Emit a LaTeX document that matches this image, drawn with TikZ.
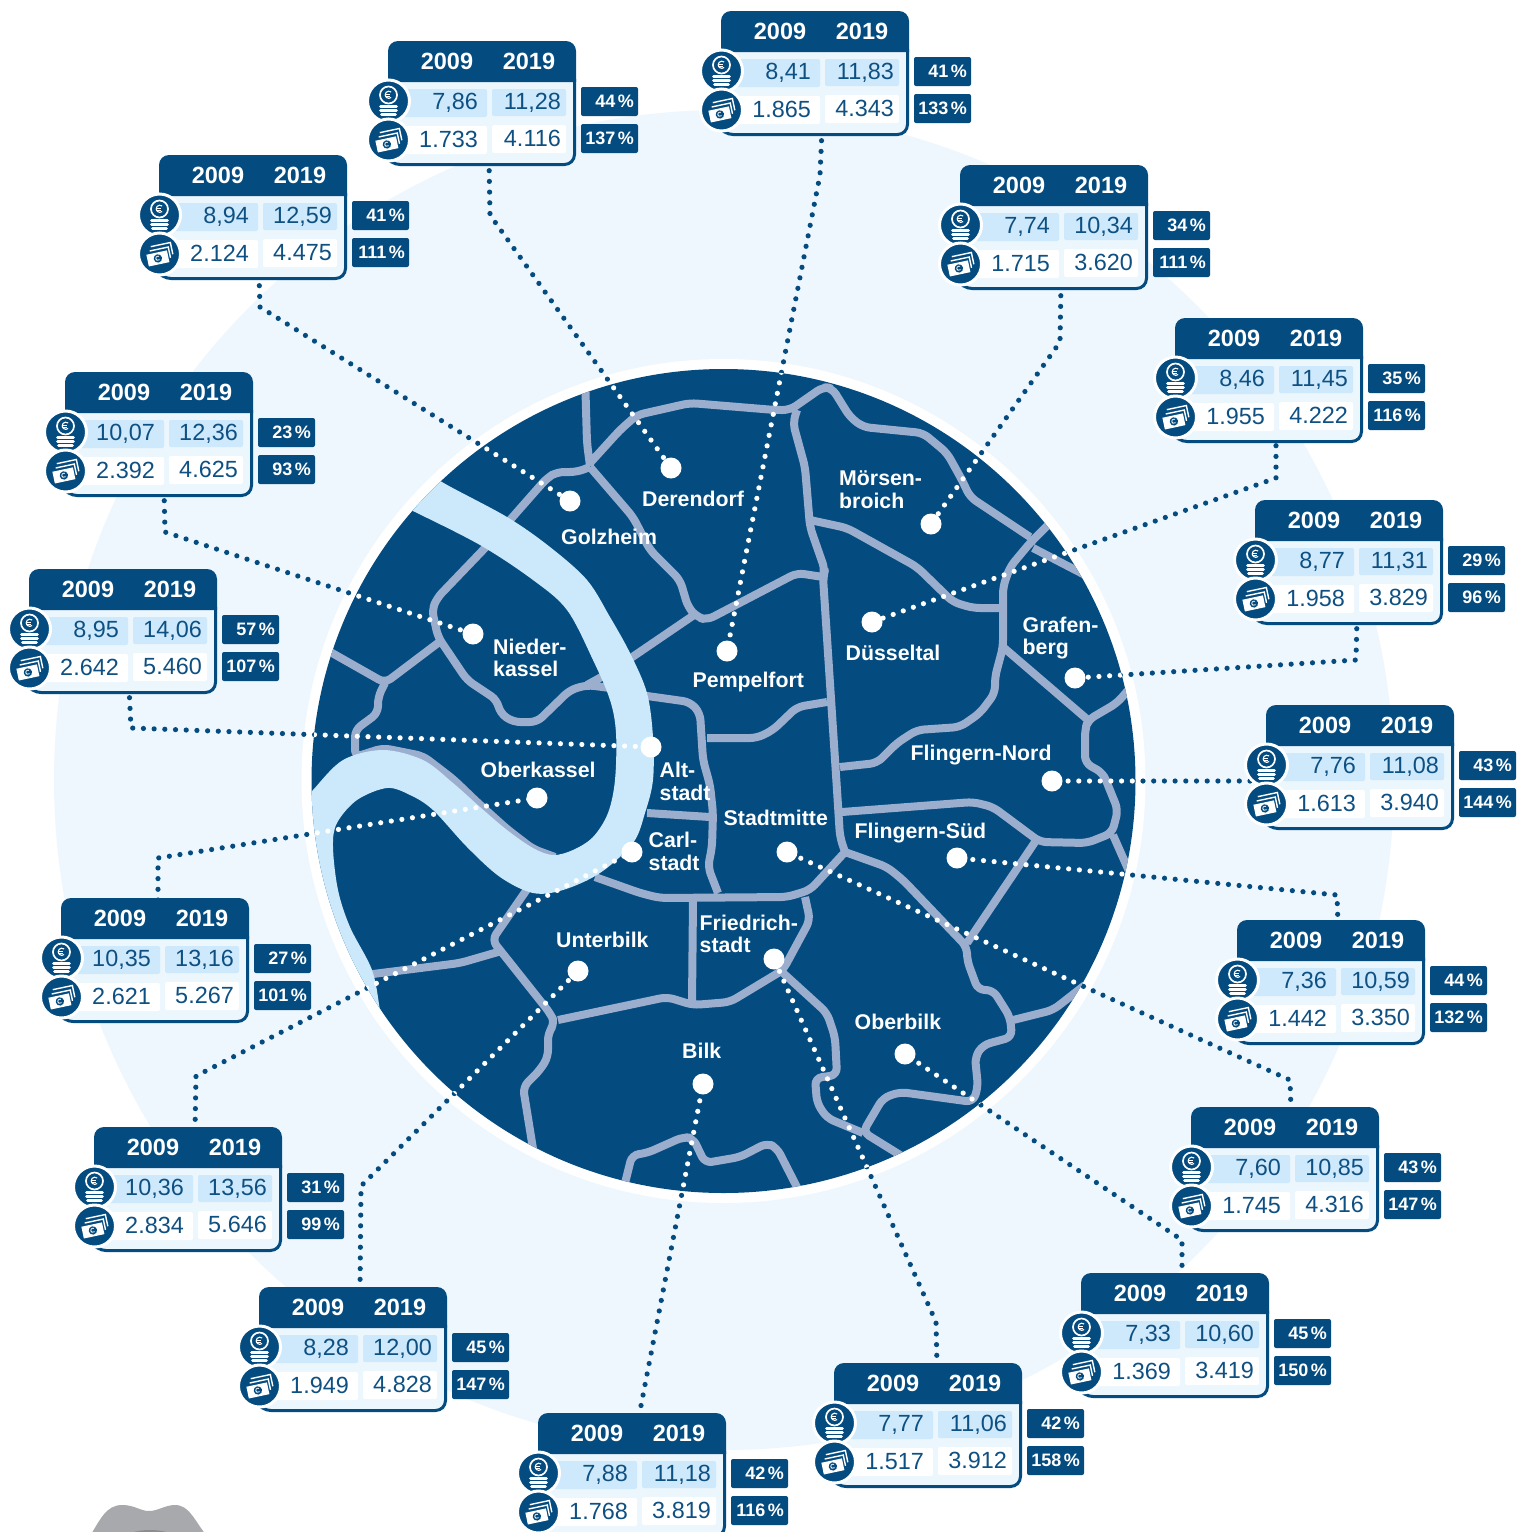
\documentclass[tikz,border=0pt]{standalone}
\usepackage{fontspec}
\setmainfont{Liberation Sans}
\definecolor{navy}{HTML}{044B7F}
\definecolor{halo}{HTML}{EEF7FE}
\definecolor{bodyc}{HTML}{EBF6FD}
\definecolor{cellc}{HTML}{CDE9FB}
\definecolor{river}{HTML}{CBE9FB}
\definecolor{street}{HTML}{9BAECE}
\definecolor{numc}{HTML}{0F5083}
\definecolor{blob}{HTML}{A7A9AC}
\tikzset{
  darkdots/.style={navy,line width=5.2pt,line cap=round,dash pattern=on 0pt off 10.7pt},
  whitedots/.style={white,line width=5.2pt,line cap=round,dash pattern=on 0pt off 10.7pt},
  streets/.style={street,line width=8pt,line join=round,rounded corners=7pt},
  pin/.style={circle,fill=white,minimum size=21pt,inner sep=0pt},
  place/.style={white,inner sep=0pt,anchor=north west,align=left,font=\fontsize{21.3}{22.7}\selectfont\bfseries},
  year/.style={white,inner sep=0pt,anchor=base,font=\fontsize{23.5}{23.5}\selectfont\bfseries},
  num/.style={numc,inner sep=0pt,anchor=base east,font=\fontsize{23.4}{24}\selectfont},
  pct/.style={white,inner sep=0pt,anchor=base east,font=\fontsize{18}{20}\selectfont\bfseries},
  badge/.style={fill=navy,rounded corners=2pt},
  iconring/.style={circle,fill=navy,draw=white,line width=3pt,minimum size=42pt,inner sep=0pt},
}
\newcommand\coinicon[2]{%
  \begin{scope}[shift={(#1,#2)}]
    \draw[white,line width=1.7pt] (0,-6) circle (8.5pt);
    \draw[white,line width=1.1pt] (2.6,-9) arc (50:310:3.6pt);
    \draw[white,line width=.9pt] (-3.6,-6.8)--(1,-6.8) (-3.6,-5)--(1,-5);
    \draw[white,line width=2.8pt,line cap=round] (-8,5.5)--(8,5.5) (-8,9.5)--(8,9.5) (-7,13.5)--(7,13.5);
  \end{scope}}
\newcommand\cashicon[2]{%
  \begin{scope}[shift={(#1,#2)},rotate=12]
    \draw[white,line width=1.4pt] (-7,-9)--(13,-9)--(13,3) (-9,-5)--(10,-5)--(10,6);
    \fill[white] (-13,-2) rectangle (8,10);
    \fill[navy] (-2.5,4) circle (4.2pt);
    \draw[white,line width=.8pt] (-1,2.2) arc (50:310:2.2pt);
  \end{scope}}
\newcommand\databox[9]{%
  \begin{scope}[shift={(#2,#3)}]
    \fill[bodyc] (6,40) rectangle (186,123);
    \draw[navy,line width=3pt,rounded corners=10pt] (186.5,38)--(186.5,123.5)--(2,123.5)--(0,120);
    \fill[navy] (0,41) [rounded corners=10pt] -- (0,0) -- (188,0) [sharp corners] -- (188,41) -- cycle;
    \fill[cellc,rounded corners=2pt] (15,48) rectangle (99,76) (104,48) rectangle (178,75);
    \fill[white,rounded corners=2pt] (15,85) rectangle (99,113) (104,84) rectangle (178,112);
    \fill[badge] (193,46) rectangle (250,75);
    \fill[badge] (193,83) rectangle (250,112);
    \node[year] (#1y1) at (59,28.5) {2009};
    \node[year] (#1y2) at (141,28.5) {2019};
    \node[num] (#1a) at (90,68.5) {#4};
    \node[num] (#1b) at (173,68) {#5};
    \node[num] (#1c) at (90,106) {#6};
    \node[num] (#1d) at (173,105) {#7};
    \node[pct] (#1p) at (246,66.5) {#8\kern2.5pt\%};
    \node[pct] (#1q) at (246,103.5) {#9\kern2.5pt\%};
    \node[iconring] (#1coin) at (0.5,60) {};
    \coinicon{0.5}{60}
    \node[iconring] (#1cash) at (0.5,99) {};
    \cashicon{0.5}{99}
  \end{scope}}
\newcommand\allconnectors[1]{%
  \draw[#1] (s1)--(t1)--(cPem);
  \draw[#1] (s2)--(t2)--(cDer);
  \draw[#1] (s3)--(t3)--(cGol);
  \draw[#1] (s4)--(t4)--(cMoe);
  \draw[#1] (s5)--(t5)--(cDue);
  \draw[#1] (s6)--(t6)--(cNie);
  \draw[#1] (s7)--(t7)--(cGra);
  \draw[#1] (s8)--(t8)--(cAlt);
  \draw[#1] (s9)--(cFlN);
  \draw[#1] (s10)--(t10)--(cObk);
  \draw[#1] (s11)--(t11)--(cFlS);
  \draw[#1] (s12)--(t12)--(cSta);
  \draw[#1] (s13)--(t13)--(cCar);
  \draw[#1] (s14)--(t14)--(cOlk);
  \draw[#1] (s15)--(t15)--(cUnt);
  \draw[#1] (s16)--(t16)--(cFri);
  \draw[#1] (s17)--(cBil);
}
\begin{document}
\begin{tikzpicture}[x=1pt,y=-1pt]
\useasboundingbox (0,0) rectangle (1517,1532);
\fill[white] (0,0) rectangle (1517,1532);
\fill[halo] (724,780) circle (670pt);
\fill[white] (723.5,781) circle (422pt);
% pin positions
\coordinate (cPem) at (727,651); \coordinate (cDer) at (671,468);
\coordinate (cGol) at (570,501); \coordinate (cMoe) at (931,524);
\coordinate (cDue) at (872,622); \coordinate (cNie) at (473,634);
\coordinate (cGra) at (1075,678); \coordinate (cAlt) at (651,747);
\coordinate (cFlN) at (1052,781); \coordinate (cObk) at (537,798);
\coordinate (cFlS) at (957,858); \coordinate (cSta) at (787,852);
\coordinate (cCar) at (632,852); \coordinate (cOlk) at (905,1054);
\coordinate (cUnt) at (578,971); \coordinate (cFri) at (774,959);
\coordinate (cBil) at (703,1084);
% connector ends and bends
\coordinate (s1) at (822,130); \coordinate (t1) at (820,175);
\coordinate (s2) at (489,160); \coordinate (t2) at (490,215);
\coordinate (s3) at (259,275); \coordinate (t3) at (260,307);
\coordinate (s4) at (1061,285); \coordinate (t4) at (1060,342);
\coordinate (s5) at (1276,435); \coordinate (t5) at (1276,478);
\coordinate (s6) at (164,490); \coordinate (t6) at (165,532);
\coordinate (s7) at (1357,618); \coordinate (t7) at (1356,660);
\coordinate (s8) at (129,687); \coordinate (t8) at (131,728);
\coordinate (s9) at (1250,781);
\coordinate (s10) at (158,900); \coordinate (t10) at (158,858);
\coordinate (s11) at (1338,925); \coordinate (t11) at (1337,895);
\coordinate (s12) at (1291,1110); \coordinate (t12) at (1290,1080);
\coordinate (s13) at (195,1130); \coordinate (t13) at (196,1076);
\coordinate (s14) at (1182,1276); \coordinate (t14) at (1182,1240);
\coordinate (s15) at (360,1290); \coordinate (t15) at (361,1186);
\coordinate (s16) at (937,1366); \coordinate (t16) at (936,1322);
\coordinate (s17) at (639,1416);
\allconnectors{darkdots}
% map
\fill[navy] (723.5,781) circle (412pt);
\begin{scope}
  \clip (723.5,781) circle (412pt);
  \draw[streets]
    (585,375)--(587,443)--(590,466)
    (590,467)--(577,472)--(557,472)--(547,478)--(510,520)--(485,548)--(437,598)--(432,610)--(438,637)--(467,680)--(497,700)--(500,713)--(513,722)--(537,722)--(570,690)--(587,685)--(610,688)
    (587,685)--(605,675)
    (640,695)--(690,702)--(700,713)--(703,760)--(710,785)--(713,813)--(712,847)--(708,867)--(718,893)
    (590,467)--(633,517)--(650,550)--(680,580)--(688,607)--(697,617)--(707,620)--(730,608)--(797,573)--(823,577)
    (694,615)--(625,662)
    (590,463)--(620,430)--(637,415)--(690,403)--(775,410)--(790,410)--(823,387)--(832,388)--(850,417)--(863,427)--(923,433)--(947,453)--(962,480)--(970,497)--(1030,537)
    (797,410)--(793,423)--(805,467)--(810,527)--(825,570)--(823,577)--(837,790)--(840,837)--(845,852)
    (810,520)--(847,528)--(917,567)--(953,602)--(973,608)--(1003,608)
    (1050,523)--(1030,543)--(1010,567)--(1003,587)--(1003,647)--(995,677)--(995,693)--(980,713)--(960,727)--(917,730)--(897,743)--(877,763)--(840,767)
    (1033,548)--(1085,575)
    (1003,647)--(1088,720)
    (1130,688)--(1117,703)--(1088,720)--(1085,730)--(1085,763)--(1103,773)--(1118,810)--(1112,833)--(1087,843)--(1040,842)--(993,807)--(973,802)--(842,812)
    (1113,835)--(1132,878)
    (1035,842)--(967,943)
    (845,852)--(887,867)--(903,880)--(967,947)--(967,960)--(978,990)--(993,990)--(1010,1017)--(1012,1037)--(983,1045)--(975,1057)--(978,1087)--(973,1102)--(900,1092)--(883,1098)--(863,1132)--(905,1158)
    (1013,1020)--(1053,1010)--(1085,985)
    (782,972)--(827,1013)--(835,1037)--(837,1075)--(815,1078)--(817,1103)--(827,1118)--(863,1133)
    (845,852)--(810,890)--(787,897)--(660,898)--(640,893)--(595,877)
    (805,897)--(810,920)--(783,970)--(730,1002)--(693,1005)--(667,997)--(558,1020)
    (693,900)--(692,1003)
    (530,885)--(492,940)--(550,1013)--(555,1023)--(548,1033)--(548,1057)--(540,1070)--(523,1087)--(534,1155)
    (498,952)--(460,963)--(365,975)
    (622,1195)--(632,1155)--(647,1153)--(683,1137)--(693,1138)--(705,1163)--(740,1157)--(767,1143)--(777,1148)--(802,1197)
    (325,649)--(385,683)--(438,643)
    (385,683)--(378,697)--(378,713)--(355,730)--(355,757)--(383,748)--(423,756)--(453,779)--(477,802)--(507,829)--(533,849)--(555,857)
    (647,813)--(710,817)
    (707,738)--(757,738)--(773,730)--(797,707)--(827,702);
  \fill[river]
    plot[smooth,tension=.55] coordinates {(430,470) (442,482) (507,517) (550,547) (587,580) (610,617) (630,653) (647,693) (653,737) (653,780) (645,813) (633,843) (600,873) (563,890) (533,893) (500,877) (467,847) (433,810) (410,795) (387,788) (357,800) (337,823) (333,847) (338,890) (350,927) (372,970) (380,1010) (385,1040)}
    -- (290,1040) -- (290,800)
    -- plot[smooth,tension=.55] coordinates {(300,805) (313,790) (343,760) (383,750) (423,760) (453,783) (480,807) (507,830) (533,848) (553,855) (573,850) (593,837) (608,813) (615,780) (616,733) (610,700) (593,660) (567,610) (533,580) (480,545) (413,511) (400,505)}
    -- cycle;
  \allconnectors{whitedots}
\end{scope}
% pins
\node[pin] (nPem) at (cPem) {}; \node[pin] (nDer) at (cDer) {};
\node[pin] (nGol) at (cGol) {}; \node[pin] (nMoe) at (cMoe) {};
\node[pin] (nDue) at (cDue) {}; \node[pin] (nNie) at (cNie) {};
\node[pin] (nGra) at (cGra) {}; \node[pin] (nAlt) at (cAlt) {};
\node[pin] (nFlN) at (cFlN) {}; \node[pin] (nObk) at (cObk) {};
\node[pin] (nFlS) at (cFlS) {}; \node[pin] (nSta) at (cSta) {};
\node[pin] (nCar) at (cCar) {}; \node[pin] (nOlk) at (cOlk) {};
\node[pin] (nUnt) at (cUnt) {}; \node[pin] (nFri) at (cFri) {};
\node[pin] (nBil) at (cBil) {};
% place names
\node[place] (lDer) at (642,491) {Derendorf};
\node[place] (lGol) at (561,529) {Golzheim};
\node[place] (lNie) at (493,638.5) {Nieder-\\kassel};
\node[place] (lMoe) at (839,471) {Mörsen-\\broich};
\node[place] (lDue) at (845.5,645) {Düsseltal};
\node[place] (lGra) at (1022.5,616.5) {Grafen-\\berg};
\node[place] (lPem) at (692.5,671.5) {Pempelfort};
\node[place] (lObk) at (480.5,762) {Oberkassel};
\node[place] (lAlt) at (659.5,762) {Alt-\\stadt};
\node[place] (lFlN) at (910.5,744.5) {Flingern-Nord};
\node[place] (lSta) at (723.5,810) {Stadtmitte};
\node[place] (lFlS) at (854.5,822.5) {Flingern-Süd};
\node[place] (lCar) at (648.5,832) {Carl-\\stadt};
\node[place] (lUnt) at (556,932) {Unterbilk};
\node[place] (lFri) at (699.5,914.5) {Friedrich-\\stadt};
\node[place] (lOlk) at (854.5,1013.5) {Oberbilk};
\node[place] (lBil) at (682,1043) {Bilk};
% boxes
\databox{a}{721}{11}{8,41}{11,83}{1.865}{4.343}{41}{133}
\databox{b}{388}{41}{7,86}{11,28}{1.733}{4.116}{44}{137}
\databox{c}{159}{155}{8,94}{12,59}{2.124}{4.475}{41}{111}
\databox{d}{960}{165}{7,74}{10,34}{1.715}{3.620}{34}{111}
\databox{e}{1175}{318}{8,46}{11,45}{1.955}{4.222}{35}{116}
\databox{f}{65}{372}{10,07}{12,36}{2.392}{4.625}{23}{93}
\databox{g}{1255}{500}{8,77}{11,31}{1.958}{3.829}{29}{96}
\databox{h}{29}{569}{8,95}{14,06}{2.642}{5.460}{57}{107}
\databox{i}{1266}{705}{7,76}{11,08}{1.613}{3.940}{43}{144}
\databox{j}{61}{898}{10,35}{13,16}{2.621}{5.267}{27}{101}
\databox{k}{1237}{920}{7,36}{10,59}{1.442}{3.350}{44}{132}
\databox{l}{1191}{1107}{7,60}{10,85}{1.745}{4.316}{43}{147}
\databox{m}{94}{1127}{10,36}{13,56}{2.834}{5.646}{31}{99}
\databox{n}{1081}{1273}{7,33}{10,60}{1.369}{3.419}{45}{150}
\databox{o}{259}{1287}{8,28}{12,00}{1.949}{4.828}{45}{147}
\databox{p}{834}{1363}{7,77}{11,06}{1.517}{3.912}{42}{158}
\databox{q}{538}{1413}{7,88}{11,18}{1.768}{3.819}{42}{116}
% grey shape at the lower edge
\fill[blob] (90,1536) .. controls (100,1520) and (106,1505) .. (122,1505)
  .. controls (135,1505) and (140,1511) .. (149,1511)
  .. controls (158,1511) and (165,1505) .. (175,1505)
  .. controls (190,1505) and (195,1522) .. (207,1536) -- cycle;
\fill[black!45] (125,1536) .. controls (135,1528) and (165,1528) .. (175,1536) -- cycle;
\end{tikzpicture}
\end{document}
